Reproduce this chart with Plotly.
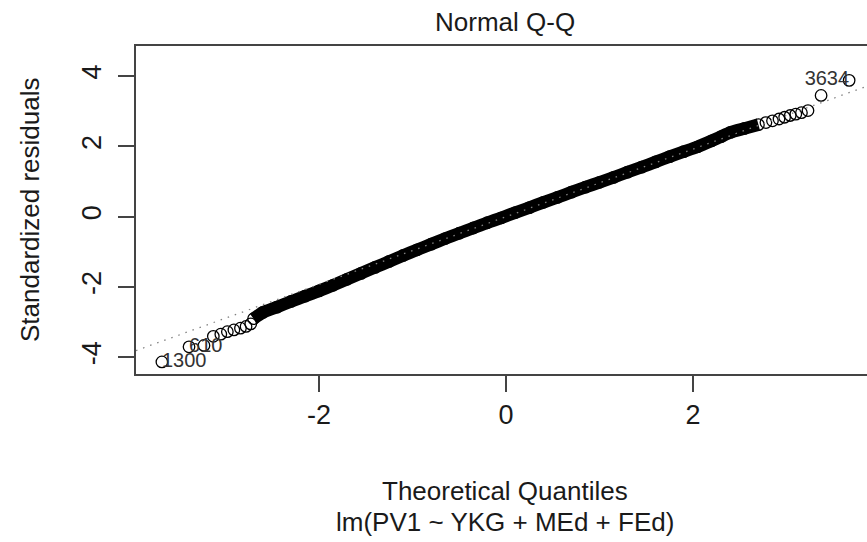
import plotly.graph_objects as go

# ---- data (theoretical quantile, standardized residual) ----
# lower tail (individually visible points)
low_tail_q = [-3.68, -3.39, -3.23, -3.13, -3.05, -2.98, -2.91, -2.84, -2.78, -2.73]
low_tail_r = [-4.13, -3.70, -3.66, -3.40, -3.34, -3.27, -3.22, -3.17, -3.12, -3.05]

# dense central band (thousands of overlapping points)
band_q = [-2.70, -2.60, -2.45, -2.30, -2.15, -2.00, -1.85, -1.70, -1.55, -1.40,
          -1.25, -1.10, -0.95, -0.80, -0.65, -0.50, -0.35, -0.20, -0.05, 0.10,
          0.25, 0.40, 0.55, 0.70, 0.85, 1.00, 1.15, 1.30, 1.45, 1.60,
          1.75, 1.90, 2.05, 2.20, 2.30, 2.40, 2.55, 2.70]
band_r = [-2.90, -2.72, -2.57, -2.41, -2.26, -2.11, -1.95, -1.78, -1.61, -1.44,
          -1.27, -1.10, -0.94, -0.78, -0.62, -0.47, -0.32, -0.17, -0.03, 0.12,
          0.26, 0.41, 0.55, 0.70, 0.84, 0.98, 1.12, 1.27, 1.41, 1.56,
          1.71, 1.85, 1.99, 2.16, 2.28, 2.40, 2.51, 2.62]

# upper tail (individually visible points)
high_tail_q = [2.78, 2.85, 2.92, 2.98, 3.04, 3.10, 3.16, 3.23, 3.37, 3.67]
high_tail_r = [2.68, 2.73, 2.78, 2.83, 2.88, 2.92, 2.96, 3.02, 3.45, 3.88]

# labelled observations
label_ids = ["1300", "610", "3634"]
label_q = [-3.68, -3.39, 3.67]
label_r = [-4.13, -3.70, 3.88]
label_pos = ["middle right", "middle right", "middle left"]

# reference line (qqline through the quartiles)
qqline_slope = 0.962
qqline_intercept = 0.0

x_ticks = [-2, 0, 2]
y_ticks = [-4, -2, 0, 2, 4]
x_range = [-3.957, 3.861]
y_range = [-4.473, 4.857]

FONT = "Liberation Sans, Arial, Helvetica, sans-serif"
TXT = "#1a1a1a"

fig = go.Figure()

# dense band rendered as a thick stroke through the read points
fig.add_trace(go.Scatter(x=band_q, y=band_r, mode="lines",
                         line=dict(color="black", width=12.5, shape="spline", smoothing=0.6),
                         hoverinfo="skip", showlegend=False))

all_q = low_tail_q + band_q + high_tail_q
all_r = low_tail_r + band_r + high_tail_r
fig.add_trace(go.Scatter(x=all_q, y=all_r, mode="markers",
                         marker=dict(symbol="circle-open", size=11.5,
                                     color="black", line=dict(width=1.3, color="black")),
                         showlegend=False))

# point labels
fig.add_trace(go.Scatter(x=label_q, y=label_r, mode="text", text=label_ids,
                         textposition=label_pos,
                         textfont=dict(family=FONT, size=20, color="#333"),
                         hoverinfo="skip", showlegend=False))

# dotted qq reference line across the plotting region
fig.add_trace(go.Scatter(x=x_range,
                         y=[qqline_intercept + qqline_slope * v for v in x_range],
                         mode="lines",
                         line=dict(color="#808080", width=1.3, dash="1.5px,6px"),
                         hoverinfo="skip", showlegend=False))

XC = (505 - 136) / 731

fig.update_layout(
    width=867, height=542,
    margin=dict(l=136, r=0, t=46, b=168),
    paper_bgcolor="white", plot_bgcolor="white",
    font=dict(family=FONT, size=27, color=TXT),
    showlegend=False,
    xaxis=dict(range=x_range, tickvals=x_ticks, ticktext=[str(v) for v in x_ticks],
               showgrid=False, zeroline=False, showline=True, mirror=True,
               linecolor="#444", linewidth=1.5,
               ticks="outside", ticklen=16, tickwidth=1.5, tickcolor="#444",
               tickfont=dict(size=27, color=TXT), ticklabelstandoff=0),
    yaxis=dict(range=y_range, tickvals=y_ticks, ticktext=[str(v) for v in y_ticks],
               showgrid=False, zeroline=False, showline=True, mirror=False,
               linecolor="#444", linewidth=1.5,
               ticks="outside", ticklen=16, tickwidth=1.5, tickcolor="#444",
               tickangle=-90, tickfont=dict(size=27, color=TXT), ticklabelstandoff=6),
    annotations=[
        dict(text="Normal Q-Q", xref="paper", yref="paper", x=XC,
             y=1, yanchor="middle", yshift=24, showarrow=False,
             font=dict(size=26, color=TXT)),
        dict(text="Theoretical Quantiles", xref="paper", yref="paper",
             x=XC, y=0, yanchor="middle", yshift=-117, showarrow=False,
             font=dict(size=26, color=TXT)),
        dict(text="lm(PV1 ~ YKG + MEd + FEd)", xref="paper", yref="paper",
             x=XC, y=0, yanchor="middle", yshift=-148, showarrow=False,
             font=dict(size=26, color=TXT)),
        dict(text="Standardized residuals", xref="paper", yref="paper",
             x=0, xanchor="center", xshift=-106, y=0.5, yanchor="middle",
             textangle=-90, showarrow=False, font=dict(size=26, color=TXT)),
    ],
)

fig.write_html("out.html")
